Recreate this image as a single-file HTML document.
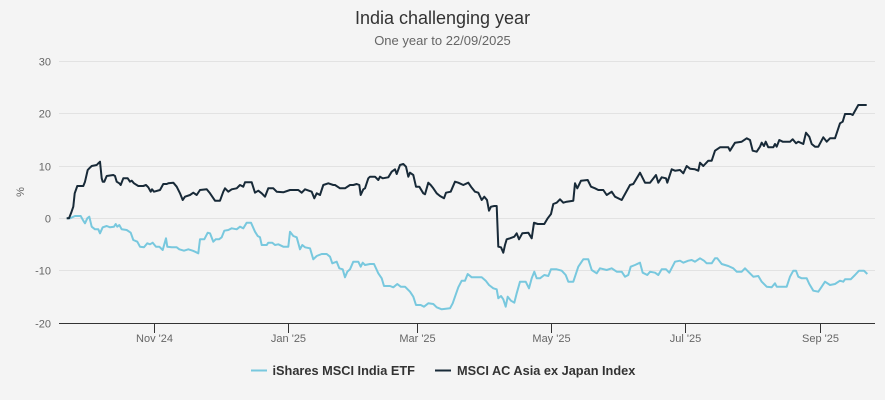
<!DOCTYPE html>
<html><head><meta charset="utf-8"><style>
html,body{margin:0;padding:0;background:#f4f4f4;}
svg{display:block;font-family:"Liberation Sans",Arial,sans-serif;}
</style></head><body>
<svg width="885" height="400" viewBox="0 0 885 400" xmlns="http://www.w3.org/2000/svg">
<rect width="885" height="400" fill="#f4f4f4"/>
<text x="442.5" y="24" text-anchor="middle" font-size="18" fill="#333">India challenging year</text>
<text x="442.5" y="45" text-anchor="middle" font-size="13" fill="#666">One year to 22/09/2025</text>
<g stroke="#e2e2e2" stroke-width="1">
<line x1="59" y1="61.5" x2="875" y2="61.5"/>
<line x1="59" y1="113.5" x2="875" y2="113.5"/>
<line x1="59" y1="166.5" x2="875" y2="166.5"/>
<line x1="59" y1="218.5" x2="875" y2="218.5"/>
<line x1="59" y1="270.5" x2="875" y2="270.5"/>
</g>
<g font-size="11" fill="#666" text-anchor="end">
<text x="51" y="65.5">30</text>
<text x="51" y="117.5">20</text>
<text x="51" y="170.5">10</text>
<text x="51" y="222.5">0</text>
<text x="51" y="274.5">-10</text>
<text x="51" y="327.5">-20</text>
</g>
<text transform="translate(24,192) rotate(-90)" text-anchor="middle" font-size="11" fill="#666">%</text>
<line x1="59" y1="323.5" x2="875" y2="323.5" stroke="#333" stroke-width="1"/>
<g stroke="#333" stroke-width="1">
<line x1="154.5" y1="323" x2="154.5" y2="333"/>
<line x1="288.5" y1="323" x2="288.5" y2="333"/>
<line x1="417.5" y1="323" x2="417.5" y2="333"/>
<line x1="551.5" y1="323" x2="551.5" y2="333"/>
<line x1="685.5" y1="323" x2="685.5" y2="333"/>
<line x1="820.5" y1="323" x2="820.5" y2="333"/>
</g>
<g font-size="11" fill="#666" text-anchor="middle">
<text x="154.5" y="342">Nov '24</text>
<text x="288.5" y="342">Jan '25</text>
<text x="417.5" y="342">Mar '25</text>
<text x="551.5" y="342">May '25</text>
<text x="685.5" y="342">Jul '25</text>
<text x="820.5" y="342">Sep '25</text>
</g>
<polyline fill="none" stroke="#78c8de" stroke-width="2" stroke-linejoin="round" points="66.7,218.3 70,218.3 75,216 80.7,216 83.3,220.7 85,223.3 87.3,218.3 89.3,216.7 91.7,226.7 95,229.3 98.3,229.3 100,233.3 102.7,227.3 106.7,226 110,227.3 114,226.7 115.7,224 117.3,226.7 119.3,225 121.7,229.3 126.7,230 130.7,232.7 133.3,240 137.3,241.7 140,246.7 144,247.3 147.3,243.3 150,244.3 152.7,242.7 156,246.7 159.3,246.7 162.7,250 166,238.3 167.3,246.7 171.7,247.3 176.7,247.3 179.3,249.3 184,250.7 188.3,249.3 192.7,250.7 195,251.7 198.3,253.3 200,239.3 204.3,239.3 207.7,232.7 210,233.3 213.3,241.7 215.7,239.3 219,239.3 221.7,237.3 224.3,230.7 228.3,230 231.7,228.3 236.7,229.3 240,226.7 243.3,228.3 246.7,222.7 251,222.7 255,231.7 257.7,236 260,237.3 261.7,245 266.7,245 268.3,242.7 272.3,242.7 275,245 278.3,244.3 283.3,246.7 288.3,246.7 290,231.7 293.3,236 296.7,237.3 300,249.3 302.3,245 305,247.3 310,248.3 313.3,259.3 316.7,256 321.7,254 326.7,254 330,256.7 332.3,263.3 336.7,261.7 339.3,268.3 342.7,269.3 345,277.3 347.3,271.7 350,269.3 353.3,261.7 358.3,261.7 360.7,266.7 362.7,262.7 365,265 370,264 374,264 378.3,273.3 381.7,278.3 384,286 390,286 393.3,287.3 397.3,284 400.7,286.7 405,286.7 410,291.7 413.3,296.7 416,305 420.7,305 424,306.7 428.3,303.3 433.3,304 436.7,307.3 441.7,309.3 450,308.3 452.7,303.3 455,296.7 458.3,287.3 461.7,280.7 465,280.7 467.7,274 471.7,277.3 481.7,277.3 485.7,280.7 489,285 493.3,288.3 496.7,289.3 498.3,298.3 501,296 503.3,299.3 505.7,306.7 507.7,296.7 511,300.7 514.3,302.7 516.7,293.3 520,281.7 525.7,281.7 529,288.3 531.7,278.3 534.3,271.7 536.7,278.3 540,278.3 544.3,275 548.3,276 551,269.3 556.7,269.3 561.7,270.7 565.7,275 568.3,281.7 573.3,281.7 578.3,266.7 583.3,259.3 588.3,259.3 591.7,270 596.7,273.3 600,268.3 606.7,270 611.7,268.3 616.7,271.7 621.7,271.7 625,276.7 628.3,275 630.7,266.7 635,265 640,262.7 642.7,272.7 647.3,275 650,271.7 655,272.7 658.3,275 661.7,269.3 666,269.3 669.3,272.7 675,261.7 680,260.7 683.3,262.7 688.3,260.7 691.7,260 695,261.7 700,258.3 704,260.7 706.7,263.3 711.7,263.3 715,258.3 717.3,258.3 721.7,264 728.3,266 733.3,268.3 736.7,271.7 741.7,271.7 745,268.3 748.3,271.7 753.3,276.7 758.3,276 761.7,281.7 766.7,286.7 771.7,287.3 775,283.3 776.7,286.7 786.7,286.7 790,276.7 793.3,270.7 796,270.7 798.3,276.7 801.7,278.3 806.7,278.3 809.3,284 813.3,290.7 818.3,291.7 821.7,286.7 825,281.7 830,285 835,284 840,280.7 843.3,281.7 845,279.3 850.7,279.3 855,275 859,270.7 864,270.7 867.3,274"/>
<polyline fill="none" stroke="#182a38" stroke-width="2" stroke-linejoin="round" points="66.7,218.3 69,218.3 71,213.3 73.3,206.7 74.7,193.3 77.3,186 83.3,186 85,181.7 87.7,170 89.3,168.3 91.7,166 96.7,165 98.3,163.3 100,161.7 101.7,178.3 102.7,181.7 104.3,181.7 106.7,176 113.3,175 115,176 116.7,181.7 119.3,183.3 120.7,185 123.3,178.3 127.7,178.3 130,181.7 131.7,180.7 134,183.3 138.3,186 143.3,186 146,185 148.3,187.3 150.7,191.7 152,189.3 154,191.7 160,190 163.3,184 166.7,184 168.3,183.3 173.3,182.7 176.7,186.7 180,193.3 182.7,200 185,196.7 190,195 193.3,192.7 196.7,195 200,190 206.7,189.3 210,193.3 215,200.7 220,200.7 223.3,191.7 225,188.3 228.3,191.7 231.7,189.3 236.7,188.3 240,185 243.3,186.7 245,182.3 251.7,182.3 255,192.7 258.3,190.7 261.7,193.3 265,196.7 268.3,188.3 273.3,188.3 276.7,191.7 283.3,192.3 290,190 298.3,190 301.7,192.7 305,189.3 311.7,191.7 314.3,198.3 316.7,193.3 320,195 323.3,185 328.3,183.3 333.3,185 335,185 340,188.3 345,188.3 350,185 353.3,185 356.7,184 359.3,185 360.7,195 363.3,189.3 365,188.3 368.3,178.3 370,176.7 375,176.7 378.3,180 380,176.7 382.7,178.3 388.3,177.3 391.7,171.7 395,169.3 396.7,174 400,165 403.3,164 406,166.7 408.3,176.7 410,172.7 413.3,175 416,186.7 419.3,186.7 423.3,193.3 425,194.3 428.3,182.7 430.7,185 433.3,188.3 436.7,193.3 440,196 444,198.3 446,192.7 450.7,191.7 455,181.7 458.3,182.7 463.3,185 468.3,182.7 471,186.7 475,191.7 478.3,192.7 481.7,200 484.3,196.7 487,200 489,210.7 491,206.7 494.3,206 496.7,206 498.3,246.7 501,247.3 503.3,252.7 505,245 506.7,239.3 510,238.3 514.3,236.7 516.7,233.3 519,239.3 522.3,233.3 528.3,232.7 531.7,238.3 534,222.7 537.7,224 544.3,224 547.7,218.3 551,214 553.3,204 556.7,202.7 560,199.3 563.3,202.7 566.7,201.7 573.3,200.7 575,183.3 577.3,188.3 581,180.7 587.7,180 591,186.7 595,188.3 598.3,190 603.3,190 606.7,195 611.7,191.7 615,196.7 621.7,200 630,185 633.3,184 640,172.7 645,182.7 650,182.7 656,175 658.3,182.7 661.7,177.3 666,178.3 667.3,182.7 671.7,169.3 675,170.7 680,170 683.3,173.3 686.7,166 690,168.7 695,169.3 698.3,170.7 700,162.7 703.3,166 708.3,160.7 711.7,160.7 715,150.7 720,147.3 728.3,147.3 730,150.7 735,142.7 741.7,141.7 746.7,138.3 750,140 752.7,150.7 756.7,151.7 760,146.7 761.7,142.7 764,146 765.7,141.7 768.3,147.3 773.3,147.3 775,144 776.7,146.7 779.3,140 782.7,141.7 790,141.7 792.7,139.3 796,143.3 798.3,141.7 803.3,144 806,132.7 809.3,136.7 811.7,144 815,146.7 818.3,146.7 823.3,137.3 826.7,141.7 830,138.3 835,138.3 840,123.3 842.7,121.7 845,114 850.7,114 852.7,115 858.3,105 866.7,105"/>
<line x1="251" y1="370.5" x2="267" y2="370.5" stroke="#78c8de" stroke-width="2"/>
<text x="272.5" y="375" font-size="12.75" font-weight="bold" fill="#333">iShares MSCI India ETF</text>
<line x1="435" y1="370.5" x2="451" y2="370.5" stroke="#182a38" stroke-width="2"/>
<text x="457" y="375" font-size="12.75" font-weight="bold" fill="#333">MSCI AC Asia ex Japan Index</text>
</svg>
</body></html>
